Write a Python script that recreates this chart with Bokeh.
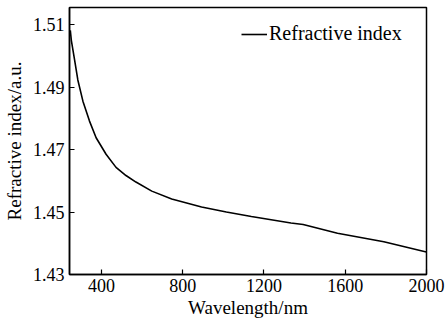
from bokeh.plotting import figure
from bokeh.models import Legend, Range1d, FixedTicker
from bokeh.embed import file_html
from bokeh.resources import INLINE

wavelength = [247, 252, 268, 284, 309, 341, 374, 423, 472, 521, 570, 648, 746, 893,
              1015, 1138, 1333, 1393, 1562, 1790, 1994, 2000]
refractive = [1.5082, 1.5050, 1.4987, 1.4923, 1.4855, 1.4792, 1.4738, 1.4685, 1.4643,
              1.4617, 1.4596, 1.4567, 1.4542, 1.4516, 1.4500, 1.4486, 1.4465, 1.4460,
              1.4432, 1.4405, 1.4373, 1.4372]
x_ticks = [400, 800, 1200, 1600, 2000]
y_ticks = [1.43, 1.45, 1.47, 1.49, 1.51]

FONT = "Liberation Serif"

p = figure(width=446, height=322, output_backend="svg", toolbar_location=None,
           x_range=Range1d(243, 2000), y_range=Range1d(1.43, 1.5155),
           min_border_left=68, min_border_right=20, min_border_top=7, min_border_bottom=48)
p.grid.visible = False
p.background_fill_color = "white"
p.border_fill_color = "white"
p.outline_line_color = "black"
p.outline_line_width = 1.5

r = p.line(wavelength, refractive, line_color="black", line_width=1.6)

for ax in (p.xaxis[0], p.yaxis[0]):
    ax.major_tick_in = 5
    ax.major_tick_out = 0
    ax.minor_tick_line_color = None
    ax.axis_line_color = "black"
    ax.axis_line_width = 1.5
    ax.major_tick_line_color = "black"
    ax.major_tick_line_width = 1.2
    ax.major_label_text_font = FONT
    ax.major_label_text_font_size = "18px"
    ax.major_label_text_color = "black"
    ax.axis_label_text_font = FONT
    ax.axis_label_text_font_size = "19px"
    ax.axis_label_text_font_style = "normal"
    ax.axis_label_text_color = "black"

p.xaxis.ticker = FixedTicker(ticks=x_ticks)
p.yaxis.ticker = FixedTicker(ticks=y_ticks)
p.yaxis.major_label_overrides = {t: f"{t:.2f}" for t in y_ticks}
p.xaxis.axis_label = "Wavelength/nm"
p.yaxis.axis_label = "Refractive index/a.u."
p.xaxis.major_label_standoff = 4
p.yaxis.major_label_standoff = 5
p.xaxis.axis_label_standoff = 2
p.yaxis.axis_label_standoff = 5

legend = Legend(items=[("Refractive index", [r])], location=(172, 229),
                padding=0, margin=0, glyph_width=26, glyph_height=20,
                label_standoff=2, border_line_alpha=0, background_fill_alpha=0,
                label_text_font=FONT, label_text_font_size="20px", label_text_color="black")
p.add_layout(legend, "center")

open("out.html", "w").write(file_html(p, INLINE))
